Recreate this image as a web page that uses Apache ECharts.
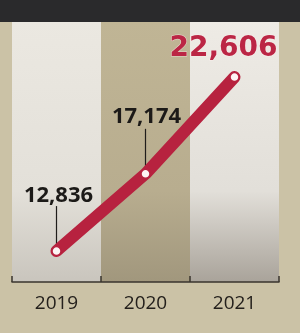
<!DOCTYPE html>
<html>
<head>
<meta charset="utf-8">
<script src="https://cdn.jsdelivr.net/npm/echarts@6/dist/echarts.min.js"></script>
<style>
  html, body { margin: 0; padding: 0; background: #cbc2a6; }
  #main { width: 300px; height: 333px; }
</style>
</head>
<body>
<div id="main"></div>
<script>
  // 数据
  var years = ['2019', '2020', '2021'];
  var counts = [12836, 17174, 22606];

  var chart = echarts.init(document.getElementById('main'));

  function grad(top, mid, bottom) {
    return new echarts.graphic.LinearGradient(0, 0, 0, 1, [
      { offset: 0, color: top },
      { offset: 0.65, color: mid },
      { offset: 1, color: bottom }
    ]);
  }

  var fmt = function (v) { return v.toLocaleString('en-US'); };

  // 标签位置（相对数据点）
  var labelStyles = [
    { offset: [2, -55], color: '#1c1a18', fontSize: 22, fontWeight: 'bold', fontFamily: 'Open Sans' },
    { offset: [1, -57], color: '#1c1a18', fontSize: 22, fontWeight: 'bold', fontFamily: 'Open Sans' },
    { offset: [-11, -28], color: '#bb2645', fontSize: 28, fontWeight: 'bold', fontFamily: 'DejaVu Sans',
      textBorderColor: 'rgba(255,240,240,0.6)', textBorderWidth: 1 }
  ];

  var lineData = counts.map(function (v, i) {
    var s = labelStyles[i];
    return {
      value: v,
      label: Object.assign({ show: true, position: 'inside', formatter: fmt(v) }, s)
    };
  });

  var option = {
    animation: false,
    backgroundColor: '#cbc2a6',
    graphic: [{
      type: 'rect',
      shape: { x: 0, y: 0, width: 300, height: 22 },
      style: { fill: '#2a2a2c' },
      z: 10
    }],
    grid: { left: 12, right: 21, top: 22, bottom: 51 },
    xAxis: {
      type: 'category',
      data: years,
      boundaryGap: true,
      axisLine: { lineStyle: { color: '#3a342e', width: 1.5 } },
      axisTick: { show: true, inside: true, length: 6, lineStyle: { color: '#3a342e', width: 1.5 } },
      axisLabel: { color: '#24201c', fontSize: 19, fontFamily: 'Open Sans', margin: 12 },
      splitArea: {
        show: true,
        areaStyle: {
          color: [
            grad('#ebe8e1', '#e3e0d9', '#c9c5bd'),
            grad('#c0b595', '#b8ad8f', '#a1977d'),
            grad('#eeebe5', '#e2dfd9', '#a9a39a')
          ]
        }
      }
    },
    yAxis: {
      type: 'value',
      min: 11100,
      max: 25700,
      show: false
    },
    series: [
      {
        // 引线
        type: 'custom',
        z: 1,
        data: counts.slice(0, 2).map(function (v, i) { return [i, v]; }),
        renderItem: function (params, api) {
          var p = api.coord([api.value(0), api.value(1)]);
          return {
            type: 'line',
            shape: { x1: p[0], y1: p[1] - 6, x2: p[0], y2: p[1] - 45 },
            style: { stroke: '#1f1d1b', lineWidth: 1.2 }
          };
        }
      },
      {
        type: 'line',
        z: 2,
        data: lineData,
        symbol: 'circle',
        symbolSize: 9,
        itemStyle: { color: '#fdf4f4', borderColor: '#b7223f', borderWidth: 1.5 },
        lineStyle: { color: '#b7223f', width: 12, cap: 'round' }
      }
    ]
  };

  chart.setOption(option);
</script>
</body>
</html>
